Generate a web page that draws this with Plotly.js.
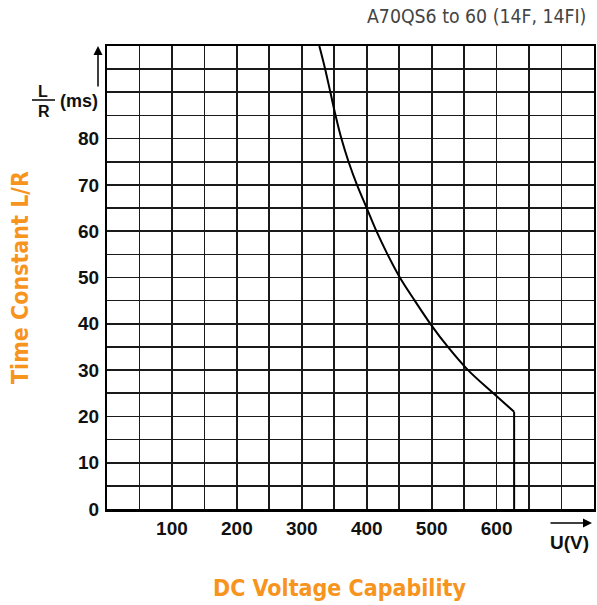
<!DOCTYPE html>
<html>
<head>
<meta charset="utf-8">
<script src="https://cdn.plot.ly/plotly-3.0.1.min.js"></script>
<style>html,body{margin:0;padding:0;background:#fff;}#chart{width:597px;height:605px;}</style>
</head>
<body>
<div id="chart"></div>
<script>
// Curve: DC voltage capability U (V) vs time constant L/R (ms)
var voltage = [327, 336, 344, 352, 361, 372, 385, 400, 415, 432, 451, 474, 498, 525, 556, 595, 627];
var timeConst = [100, 95, 90, 85, 80, 75, 70, 65, 60, 55, 50, 45, 40, 35, 30, 25, 21];
// Vertical cut-off at the maximum voltage
var cutoffVoltage = [627, 627];
var cutoffTime = [21, 0];

// Grid/tick positions and labels
var xTickVals = [0, 50, 100, 150, 200, 250, 300, 350, 400, 450, 500, 550, 600, 650, 700, 750];
var xTickText = ['', '', '100', '', '200', '', '300', '', '400', '', '500', '', '600', '', '', ''];
var yTickVals = [0, 5, 10, 15, 20, 25, 30, 35, 40, 45, 50, 55, 60, 65, 70, 75, 80, 85, 90, 95, 100];
var yTickText = ['0', '', '10', '', '20', '', '30', '', '40', '', '50', '', '60', '', '70', '', '80', '', '', '', ''];

var chartTitle = 'A70QS6 to 60 (14F, 14FI)';
var yTitle = 'Time Constant L/R';
var xTitle = 'DC Voltage Capability';
var yUnitNum = 'L', yUnitDen = 'R', yUnit = '(ms)';
var xUnit = 'U(V)';

var W = 597, H = 605, L = 107, R = 3, T = 46, B = 96;
var pw = W - L - R, ph = H - T - B;
function px(x) { return (x - L) / pw; }
function py(y) { return (H - B - y) / ph; }

var orange = '#F7941E';
var boldFont = {family: 'Liberation Sans, Arial, sans-serif', size: 19, color: '#111', weight: 'bold'};
var heavyCond = {family: 'DejaVu Sans Condensed, DejaVu Sans, sans-serif', size: 23, color: orange, weight: 'bold'};

var curve = {
  x: voltage, y: timeConst, type: 'scatter', mode: 'lines',
  line: {color: '#000', width: 2, shape: 'spline', smoothing: 1},
  hoverinfo: 'skip'
};
var cutoff = {
  x: cutoffVoltage, y: cutoffTime, type: 'scatter', mode: 'lines',
  line: {color: '#000', width: 2},
  hoverinfo: 'skip'
};

var layout = {
  width: W, height: H,
  margin: {l: L, r: R, t: T, b: B},
  paper_bgcolor: '#fff', plot_bgcolor: '#fff',
  showlegend: false,
  xaxis: {
    range: [0, 750], tickmode: 'array', tickvals: xTickVals, ticktext: xTickText,
    showgrid: true, gridcolor: '#1a1a1a', gridwidth: 1.7, zeroline: false,
    showline: true, linecolor: '#000', linewidth: 2.5, mirror: true,
    ticks: '', tickfont: boldFont, ticklabelstandoff: 1, fixedrange: true
  },
  yaxis: {
    range: [0, 100], tickmode: 'array', tickvals: yTickVals, ticktext: yTickText,
    showgrid: true, gridcolor: '#1a1a1a', gridwidth: 1.7, zeroline: false,
    showline: true, linecolor: '#000', linewidth: 2, mirror: true,
    ticks: '', tickfont: boldFont, ticklabelstandoff: 2, fixedrange: true
  },
  shapes: [
    {type: 'line', xref: 'paper', yref: 'paper', x0: px(32), x1: px(55), y0: py(100), y1: py(100), line: {color: '#000', width: 1.5}}
  ],
  annotations: [
    {text: chartTitle, xref: 'paper', yref: 'paper', x: px(588), y: py(17), xanchor: 'right', yanchor: 'middle', showarrow: false,
     font: {family: 'Liberation Sans Narrow, DejaVu Sans Condensed, Arial, sans-serif', size: 19.3, color: '#444'}},
    {text: yTitle, xref: 'paper', yref: 'paper', x: px(20), y: py(278), xanchor: 'center', yanchor: 'middle', showarrow: false, textangle: -90, font: heavyCond},
    {text: xTitle, xref: 'paper', yref: 'paper', x: px(339), y: py(588), xanchor: 'center', yanchor: 'middle', showarrow: false, font: heavyCond},
    {text: yUnitNum, xref: 'paper', yref: 'paper', x: px(43), y: py(91), xanchor: 'center', yanchor: 'middle', showarrow: false, font: {family: boldFont.family, size: 16, color: '#111', weight: 'bold'}},
    {text: yUnitDen, xref: 'paper', yref: 'paper', x: px(44), y: py(111), xanchor: 'center', yanchor: 'middle', showarrow: false, font: {family: boldFont.family, size: 16, color: '#111', weight: 'bold'}},
    {text: yUnit, xref: 'paper', yref: 'paper', x: px(79), y: py(101), xanchor: 'center', yanchor: 'middle', showarrow: false, font: {family: boldFont.family, size: 18, color: '#111', weight: 'bold'}},
    {text: xUnit, xref: 'paper', yref: 'paper', x: px(569), y: py(542), xanchor: 'center', yanchor: 'middle', showarrow: false, font: {family: boldFont.family, size: 19, color: '#111', weight: 'bold'}},
    {text: '', xref: 'paper', yref: 'paper', x: px(98), y: py(46), ax: 0, ay: 42, showarrow: true, arrowhead: 2, arrowsize: 1.2, arrowwidth: 1.5, arrowcolor: '#000'},
    {text: '', xref: 'paper', yref: 'paper', x: px(592), y: py(523), ax: -43, ay: 0, showarrow: true, arrowhead: 2, arrowsize: 1.2, arrowwidth: 1.5, arrowcolor: '#000'}
  ]
};

Plotly.newPlot('chart', [curve, cutoff], layout, {staticPlot: true, displayModeBar: false});
</script>
</body>
</html>
